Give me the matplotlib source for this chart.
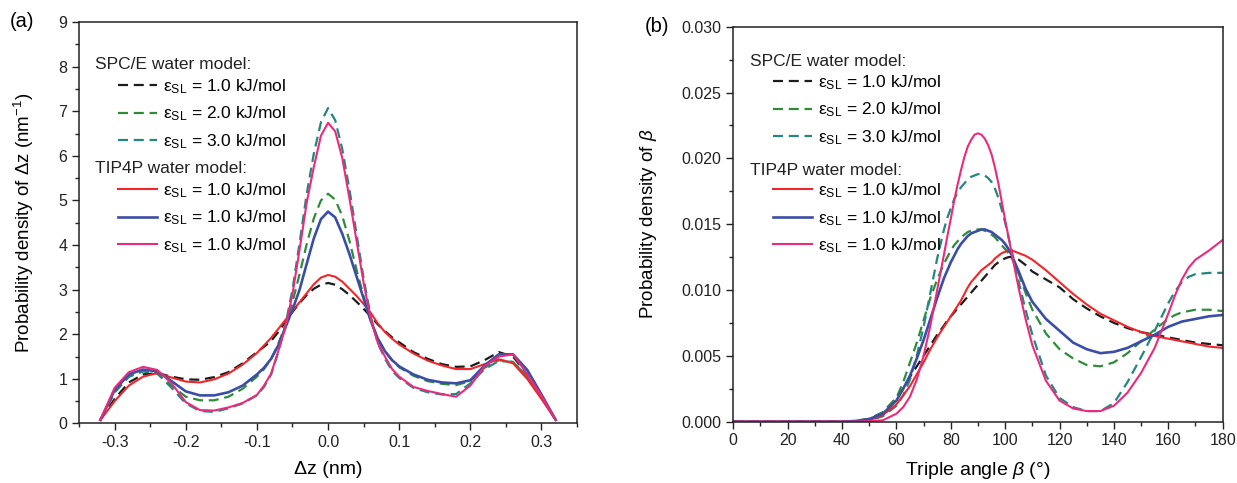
import matplotlib
matplotlib.use('Agg')
import matplotlib.pyplot as plt
from matplotlib.ticker import MultipleLocator, FormatStrFormatter

plt.rcParams['font.family'] = ['Liberation Sans', 'DejaVu Sans']
plt.rcParams['mathtext.fontset'] = 'custom'
plt.rcParams['mathtext.rm'] = 'Liberation Sans'
plt.rcParams['mathtext.it'] = 'Liberation Sans:italic'
plt.rcParams['mathtext.bf'] = 'Liberation Sans:bold'

# ---- panel (a): distribution of dz ----
dz = [-0.32, -0.30, -0.28, -0.26, -0.24, -0.22, -0.20, -0.18, -0.16, -0.14, -0.12,
      -0.10, -0.09, -0.08, -0.07, -0.06, -0.05, -0.04, -0.03, -0.02, -0.01, 0.00,
      0.01, 0.02, 0.03, 0.04, 0.05, 0.06, 0.07, 0.08, 0.09, 0.10,
      0.12, 0.14, 0.16, 0.18, 0.20, 0.22, 0.24, 0.26, 0.28, 0.30, 0.32]

spce1_a = [0.08, 0.55, 0.92, 1.10, 1.13, 1.05, 0.99, 0.98, 1.04, 1.15, 1.35,
           1.60, 1.72, 1.85, 2.05, 2.28, 2.50, 2.70, 2.88, 3.02, 3.11, 3.15,
           3.11, 3.01, 2.88, 2.73, 2.57, 2.40, 2.22, 2.07, 1.93, 1.82,
           1.60, 1.45, 1.33, 1.27, 1.28, 1.42, 1.60, 1.50, 1.10, 0.60, 0.08]
spce2_a = [0.08, 0.70, 1.05, 1.17, 1.12, 0.85, 0.60, 0.52, 0.52, 0.60, 0.78,
           1.05, 1.22, 1.45, 1.78, 2.20, 2.72, 3.35, 4.02, 4.60, 5.00, 5.15,
           5.02, 4.65, 4.10, 3.45, 2.85, 2.30, 1.90, 1.62, 1.42, 1.26,
           1.07, 0.95, 0.89, 0.86, 0.95, 1.25, 1.42, 1.38, 1.05, 0.58, 0.08]
spce3_a = [0.08, 0.70, 1.05, 1.17, 1.12, 0.80, 0.45, 0.28, 0.26, 0.34, 0.45,
           0.63, 0.82, 1.10, 1.60, 2.20, 3.00, 4.05, 5.15, 6.05, 6.75, 7.07,
           6.80, 6.15, 5.25, 4.25, 3.25, 2.40, 1.80, 1.45, 1.18, 1.02,
           0.80, 0.70, 0.65, 0.66, 0.90, 1.22, 1.40, 1.38, 1.05, 0.58, 0.08]
tip1_a = [0.08, 0.50, 0.85, 1.05, 1.13, 1.03, 0.94, 0.92, 0.99, 1.12, 1.32,
          1.58, 1.75, 1.92, 2.12, 2.32, 2.52, 2.72, 2.92, 3.12, 3.27, 3.33,
          3.29, 3.18, 3.02, 2.86, 2.68, 2.48, 2.24, 2.05, 1.90, 1.77,
          1.57, 1.41, 1.30, 1.22, 1.22, 1.33, 1.44, 1.35, 1.00, 0.55, 0.08]
tip2_a = [0.08, 0.75, 1.10, 1.21, 1.17, 0.95, 0.72, 0.63, 0.63, 0.70, 0.85,
          1.10, 1.25, 1.45, 1.75, 2.15, 2.55, 3.00, 3.58, 4.15, 4.58, 4.75,
          4.62, 4.25, 3.80, 3.30, 2.80, 2.30, 1.90, 1.62, 1.42, 1.28,
          1.10, 0.98, 0.92, 0.90, 0.97, 1.30, 1.55, 1.55, 1.20, 0.65, 0.08]
tip3_a = [0.08, 0.80, 1.15, 1.27, 1.20, 0.90, 0.48, 0.30, 0.29, 0.36, 0.46,
          0.64, 0.85, 1.12, 1.62, 2.15, 2.90, 3.90, 4.95, 5.75, 6.45, 6.74,
          6.55, 5.95, 5.05, 4.10, 3.15, 2.35, 1.80, 1.50, 1.22, 1.05,
          0.82, 0.73, 0.66, 0.60, 0.85, 1.28, 1.50, 1.55, 1.10, 0.62, 0.08]

# ---- panel (b): distribution of triple angle beta ----
beta = [0, 10, 20, 30, 40, 45, 50, 55, 60, 62.5, 65, 67.5, 70, 72.5, 75, 77.5,
        78.75, 80, 81.25, 82.5, 83.75, 85, 86.25, 87.5, 88.75, 90, 91.25, 92.5,
        93.75, 95, 96.25, 97.5, 98.75, 100, 101.25,
        102.5, 105, 107.5, 110, 115, 120, 125, 130, 135, 140, 145, 150, 155, 160,
        162.5, 165, 167.5, 170, 175, 180]

spce1_b = [0, 0, 0, 0, 0, 0.00005, 0.0002, 0.0007, 0.0018, 0.0025, 0.0034, 0.0042,
           0.0050, 0.0058, 0.0066, 0.0073,
           0.0077, 0.0080, 0.0083, 0.0086, 0.0089, 0.0092, 0.0095, 0.0098, 0.0101,
           0.0104, 0.0107, 0.0110, 0.0113, 0.0116, 0.0119, 0.0121, 0.0123, 0.0124,
           0.0125,
           0.0125, 0.0123, 0.0119, 0.0114, 0.0108, 0.0102, 0.0093, 0.0086, 0.0080,
           0.0075, 0.0071, 0.0068, 0.0066, 0.0064, 0.0063, 0.0062, 0.0061, 0.0060,
           0.0059, 0.0058]
spce2_b = [0, 0, 0, 0, 0, 0.00005, 0.0002, 0.0007, 0.0018, 0.0030, 0.0045, 0.0060,
           0.0077, 0.0094, 0.0108, 0.0120,
           0.0125, 0.0130, 0.0134, 0.0137, 0.0140, 0.0142, 0.0144, 0.0145, 0.0146,
           0.0146, 0.0146, 0.0145, 0.0144, 0.0142, 0.0140, 0.0137, 0.0134, 0.0131,
           0.0128,
           0.0124, 0.0112, 0.0098, 0.0085, 0.0067, 0.0055, 0.0048, 0.0043, 0.0042,
           0.0045, 0.0052, 0.0061, 0.0070, 0.0078, 0.0081, 0.0083, 0.0084, 0.0085,
           0.0085, 0.0084]
spce3_b = [0, 0, 0, 0, 0, 0.00003, 0.0001, 0.0004, 0.0012, 0.0020, 0.0032, 0.0050,
           0.0072, 0.0098, 0.0124, 0.0146,
           0.0155, 0.0162, 0.0169, 0.0174, 0.0178, 0.0181, 0.0184, 0.0186, 0.0187,
           0.0188, 0.0188, 0.0187, 0.0185, 0.0182, 0.0177, 0.0170, 0.0161, 0.0151,
           0.0140,
           0.0129, 0.0106, 0.0085, 0.0066, 0.0035, 0.0018, 0.0011, 0.0008, 0.0008,
           0.0014, 0.0030, 0.0049, 0.0069, 0.0090, 0.0099, 0.0106, 0.0110, 0.0112,
           0.0113, 0.0113]
tip1_b = [0, 0, 0, 0, 0, 0.00003, 0.0001, 0.0005, 0.0013, 0.0020, 0.0027, 0.0036,
          0.0045, 0.0055, 0.0064, 0.0072,
          0.0076, 0.0080, 0.0084, 0.0088, 0.0092, 0.0097, 0.0102, 0.0106, 0.0109,
          0.0112, 0.0115, 0.0117, 0.0119, 0.0121, 0.0124, 0.0126, 0.0128, 0.0129,
          0.0130,
          0.0130, 0.0128, 0.0126, 0.0123, 0.0115, 0.0106, 0.0097, 0.0089, 0.0082,
          0.0077, 0.0072, 0.0068, 0.0065, 0.0063, 0.0062, 0.0061, 0.0060, 0.0059,
          0.0057, 0.0056]
tip2_b = [0, 0, 0, 0, 0, 0.00005, 0.0002, 0.0006, 0.0016, 0.0025, 0.0035, 0.0048,
          0.0062, 0.0078, 0.0094, 0.0109,
          0.0115, 0.0121, 0.0126, 0.0131, 0.0135, 0.0138, 0.0141, 0.0143, 0.0144,
          0.0145, 0.0146, 0.0146, 0.0145, 0.0144, 0.0142, 0.0140, 0.0138, 0.0135,
          0.0131,
          0.0126, 0.0114, 0.0101, 0.0091, 0.0078, 0.0069, 0.0060, 0.0055, 0.0052,
          0.0053, 0.0056, 0.0061, 0.0066, 0.0072, 0.0074, 0.0076, 0.0077, 0.0078,
          0.0080, 0.0081]
tip3_b = [0, 0, 0, 0, 0, 0, 0.00003, 0.0001, 0.0006, 0.0011, 0.0019, 0.0032,
          0.0050, 0.0073, 0.0100, 0.0127,
          0.0141, 0.0154, 0.0168, 0.0180, 0.0191, 0.0201, 0.0209, 0.0214, 0.0218,
          0.0219, 0.0218, 0.0215, 0.0210, 0.0203, 0.0193, 0.0181, 0.0167, 0.0153,
          0.0140,
          0.0127, 0.0101, 0.0078, 0.0058, 0.0031, 0.0016, 0.0010, 0.0008, 0.0008,
          0.0012, 0.0022, 0.0037, 0.0056, 0.0082, 0.0096, 0.0108, 0.0117, 0.0123,
          0.0130, 0.0138]

eps = 'ε$_{\\mathrm{SL}}$'
spce_labels = [eps + ' = 1.0 kJ/mol', eps + ' = 2.0 kJ/mol', eps + ' = 3.0 kJ/mol']
tip_labels = [eps + ' = 1.0 kJ/mol', eps + ' = 1.0 kJ/mol', eps + ' = 1.0 kJ/mol']

spce_colors = ['#1c1c1c', '#2e8b3a', '#24877f']
tip_colors = ['#f0262a', '#3b4ea6', '#ec2a7c']
tip_widths = [1.5, 1.9, 1.5]


def draw_panel(ax, x, spce, tip, head_x, head_y, leg_x, leg_y):
    spce_lines = []
    for y, c in zip(spce, spce_colors):
        ln, = ax.plot(x, y, color=c, lw=1.6, dashes=(4.5, 2.6))
        spce_lines.append(ln)
    tip_lines = []
    for y, c, w in zip(tip, tip_colors, tip_widths):
        ln, = ax.plot(x, y, color=c, lw=w)
        tip_lines.append(ln)

    for s in ax.spines.values():
        s.set_linewidth(1.1)
        s.set_color('#222222')
    ax.tick_params(which='both', direction='out', top=False, right=False,
                   labelsize=11.5, colors='#222222')
    ax.tick_params(which='major', length=5, width=1.0)
    ax.tick_params(which='minor', length=3, width=1.0)

    # legend in two groups, each under its own heading
    ax.text(head_x, head_y[0], 'SPC/E water model:', transform=ax.transAxes,
            fontsize=12.5, va='center', ha='left', color='#222222')
    ax.text(head_x, head_y[1], 'TIP4P water model:', transform=ax.transAxes,
            fontsize=12.5, va='center', ha='left', color='#222222')
    opts = dict(loc='upper left', frameon=False, fontsize=12.5, handlelength=2.25,
                handletextpad=0.3, labelspacing=0.5, borderpad=0, borderaxespad=0)
    leg1 = ax.legend(spce_lines, spce_labels, bbox_to_anchor=(leg_x, leg_y[0]), **opts)
    ax.add_artist(leg1)
    ax.legend(tip_lines, tip_labels, bbox_to_anchor=(leg_x, leg_y[1]), **opts)


fig = plt.figure(figsize=(12.37, 4.83), dpi=100)
ax1 = fig.add_axes([0.0639, 0.1232, 0.4026, 0.8313])
ax2 = fig.add_axes([0.5928, 0.1271, 0.3956, 0.8176])

draw_panel(ax1, dz, [spce1_a, spce2_a, spce3_a], [tip1_a, tip2_a, tip3_a],
           0.032, (0.893, 0.636), 0.079, (0.862, 0.603))
ax1.set_xlim(-0.35, 0.35)
ax1.set_ylim(0, 9)
ax1.xaxis.set_major_locator(MultipleLocator(0.1))
ax1.xaxis.set_minor_locator(MultipleLocator(0.05))
ax1.xaxis.set_major_formatter(FormatStrFormatter('%.1f'))
ax1.yaxis.set_major_locator(MultipleLocator(1))
ax1.yaxis.set_minor_locator(MultipleLocator(0.5))
ax1.set_xlabel('Δz (nm)', fontsize=14, labelpad=8)
ax1.set_ylabel('Probability density of Δz (nm$^{-1}$)', fontsize=13.5, labelpad=16)
fig.text(0.008, 0.955, '(a)', fontsize=14.5, va='center')

draw_panel(ax2, beta, [spce1_b, spce2_b, spce3_b], [tip1_b, tip2_b, tip3_b],
           0.034, (0.911, 0.637), 0.082, (0.882, 0.608))
ax2.set_xlim(0, 180)
ax2.set_ylim(0, 0.030)
ax2.xaxis.set_major_locator(MultipleLocator(20))
ax2.xaxis.set_minor_locator(MultipleLocator(10))
ax2.yaxis.set_major_locator(MultipleLocator(0.005))
ax2.yaxis.set_minor_locator(MultipleLocator(0.0025))
ax2.yaxis.set_major_formatter(FormatStrFormatter('%.3f'))
ax2.set_xlabel('Triple angle $\\it{β}$ (°)', fontsize=14, labelpad=8)
ax2.set_ylabel('Probability density of $\\it{β}$', fontsize=13.5, labelpad=16)
fig.text(0.521, 0.945, '(b)', fontsize=14.5, va='center')

fig.savefig('out.png', dpi=100)
